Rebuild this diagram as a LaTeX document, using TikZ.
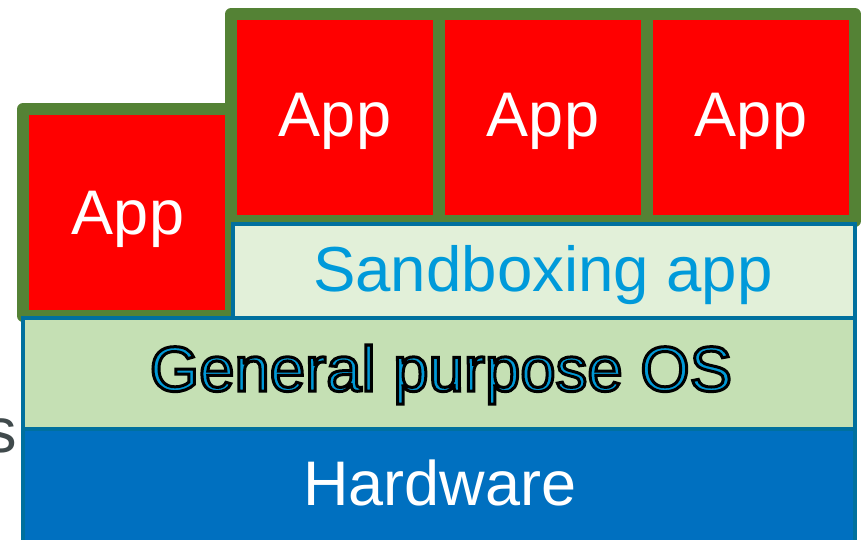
\documentclass[tikz,border=0pt]{standalone}
\usepackage{fontspec}
\setmainfont{Liberation Sans}
\definecolor{appred}{HTML}{FF0000}
\definecolor{appgreen}{HTML}{548235}
\definecolor{edgeblue}{HTML}{00709E}
\definecolor{sandfill}{HTML}{E2F0D9}
\definecolor{sandtext}{HTML}{009ADA}
\definecolor{osfill}{HTML}{C5E0B4}
\definecolor{ostext}{HTML}{0099D6}
\definecolor{hwfill}{HTML}{0070C0}
\definecolor{sgray}{HTML}{404A4C}
\tikzset{
  appbox/.style={fill=appred, draw=appgreen, line width=12pt, line join=round},
  layerbox/.style={draw=edgeblue, line width=4.5pt},
  bigtext/.style={inner sep=0pt, anchor=base, font=\fontsize{63}{63}\selectfont},
}
\begin{document}
\begin{tikzpicture}[x=1pt,y=-1pt]
\useasboundingbox (0,0) rectangle (862,539);
% apps
\draw[appbox] (23,109) rectangle (231,316);
\draw[appbox] (231,14) rectangle (439,221);
\draw[appbox] (439,14) rectangle (647,221);
\draw[appbox] (647,14) rectangle (855,221);
% sandbox
\draw[layerbox, fill=sandfill, line width=4pt] (233,224) rectangle (855,318);
% general OS
\draw[layerbox, fill=osfill] (23,318) rectangle (855,429);
% hardware
\draw[layerbox, fill=hwfill] (23,429) rectangle (855,560);
% texts
\node[bigtext, text=white] (app0) at (128,234) {App};
\node[bigtext, text=white] (app1) at (335,136) {App};
\node[bigtext, text=white] (app2) at (543,136) {App};
\node[bigtext, text=white] (app3) at (751,136) {App};
\node[bigtext, text=sandtext, font=\fontsize{63.6}{64}\selectfont] (sand) at (543,291) {Sandboxing app};
\node[inner sep=0pt, anchor=base, font=\fontsize{63.5}{64}\selectfont] (gos) at (441,391)
  {\color{ostext}\special{pdf:literal direct 2 Tr 3 w 0 0 0 RG}General purpose OS\special{pdf:literal direct 0 Tr 1 w}};
\node[bigtext, text=white] (hw) at (440,505) {Hardware};
\node[inner sep=0pt, anchor=base east, font=\fontsize{63}{63}\selectfont, text=sgray] (s) at (17,452) {s};
\end{tikzpicture}
\end{document}
